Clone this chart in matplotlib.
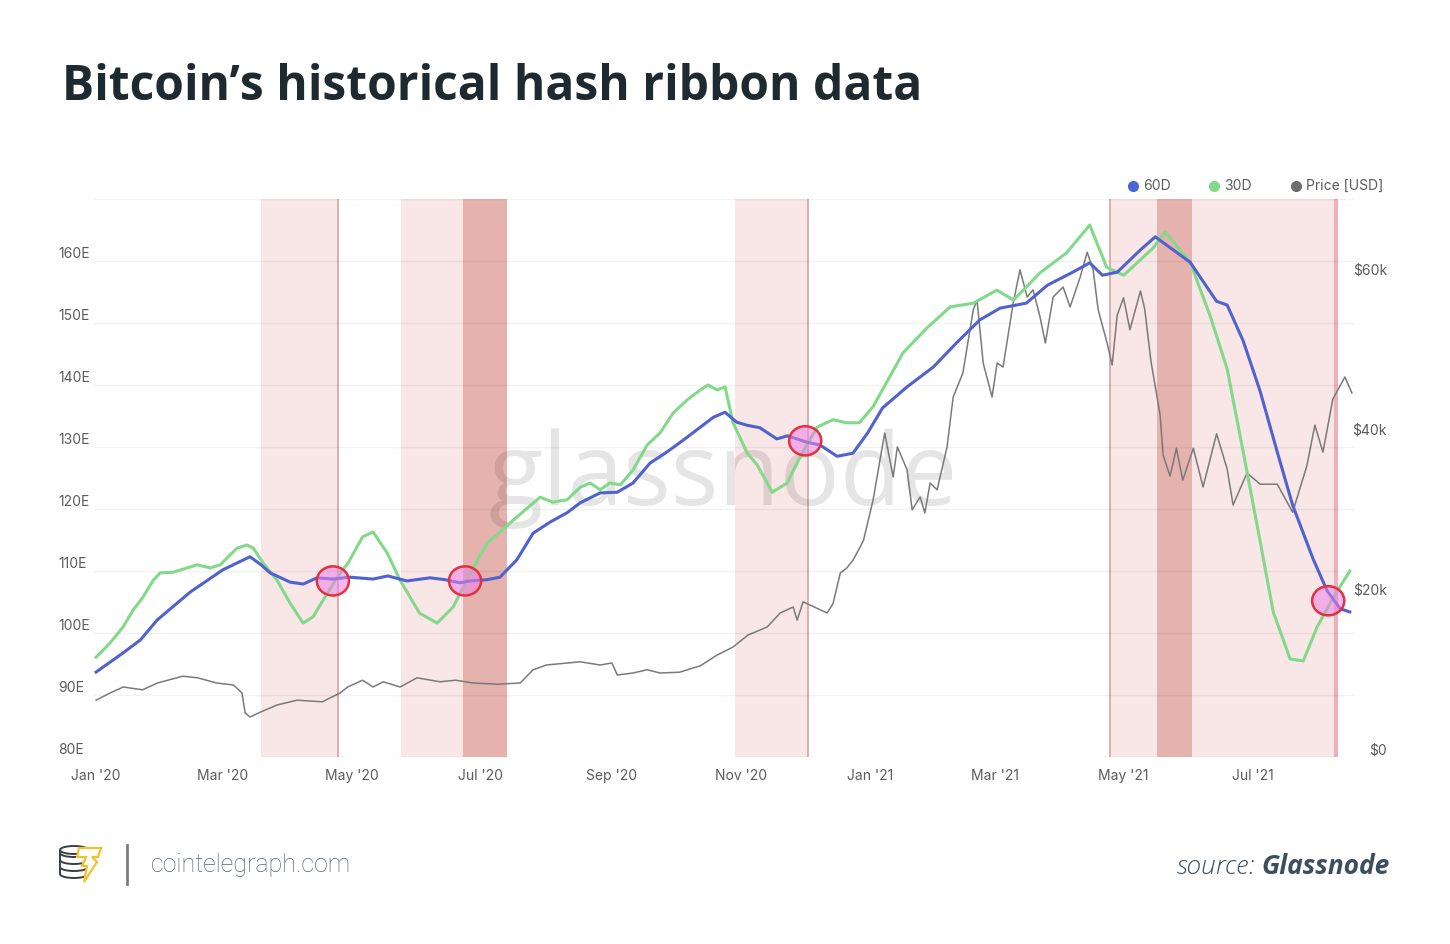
import numpy as np
import pandas as pd
import matplotlib
matplotlib.use("Agg")
import matplotlib.pyplot as plt
import matplotlib.dates as mdates
from matplotlib.patches import Ellipse, Polygon, Arc
from matplotlib.lines import Line2D
from matplotlib.transforms import blended_transform_factory, ScaledTranslation

START = pd.Timestamp("2020-01-01")

# ---------------- data (day offset from 2020-01-01, value) ----------------
ma60_days = [0, 12.8, 21, 28.9, 44.5, 60, 72.8, 78, 82.3, 91.8, 98, 104.5, 112, 120, 131, 138, 147, 158,
             165, 172, 177, 185, 191, 199, 206.7, 214.8, 222.8, 229, 238.4, 246.5, 254, 262, 270, 277.7,
             285.8, 292, 297.5, 303, 308, 314, 322, 327, 336, 342.5, 350.5, 358, 365, 372, 383.6, 396, 407,
             418, 427.6, 440, 450, 462, 470, 476, 483, 494, 501, 503, 517.5, 530, 535, 542.6, 550.6, 558.7,
             566, 575.7, 582.3, 588.5, 593]
ma60_vals = [93.7, 96.8, 98.9, 102.1, 106.6, 110.2, 112.3, 111.0, 109.7, 108.2, 107.9, 108.9, 108.7, 109.0,
             108.7, 109.2, 108.4, 108.9, 108.6, 108.1, 108.4, 108.6, 109.0, 111.8, 116.1, 117.9, 119.4, 121.0,
             122.6, 122.7, 124.2, 127.4, 129.2, 131.1, 133.2, 134.8, 135.6, 134.0, 133.5, 133.1, 131.3, 131.8,
             130.8, 130.3, 128.5, 129.0, 132.3, 136.3, 139.7, 142.9, 146.8, 150.5, 152.4, 153.2, 156.1, 158.2,
             159.7, 157.7, 158.2, 161.8, 163.9, 163.4, 159.8, 153.5, 152.9, 147.1, 139.0, 129.2, 120.6, 111.9,
             106.8, 103.9, 103.4]

ma30_days = [0, 6.6, 12.8, 17.5, 22.2, 27, 30.3, 36.4, 41.2, 47.8, 54, 58.7, 63.4, 66.7, 71.4, 74.3, 79,
             85.6, 91.8, 97.9, 102.6, 107.4, 114, 119.2, 126, 131, 137.7, 143.8, 153, 161.3, 168.9, 177, 185,
             191, 199, 210, 216, 222.8, 229, 233.7, 238.4, 243, 248, 254, 260.6, 266.8, 273, 279.6, 285.8,
             289.5, 293.8, 297.5, 301.3, 308, 312.7, 319.8, 326.9, 333, 341, 348.6, 355, 361, 367.5, 381.7,
             393, 404, 415, 426, 434, 446.5, 459, 470, 478, 486, 494, 500, 505.7, 517.5, 527, 535, 542.6,
             550.6, 556.8, 564.8, 571, 577.6, 585, 593]
ma30_vals = [96.1, 98.4, 101.0, 103.7, 105.8, 108.5, 109.7, 109.8, 110.3, 111.0, 110.5, 111.0, 112.6, 113.7,
             114.2, 113.7, 111.3, 108.5, 104.8, 101.6, 102.6, 105.3, 109.0, 111.3, 115.5, 116.3, 112.9, 108.5,
             103.2, 101.6, 104.2, 109.7, 114.5, 116.3, 118.7, 121.9, 121.1, 121.5, 123.5, 124.2, 123.1, 124.2,
             123.9, 126.3, 130.3, 132.3, 135.5, 137.6, 139.2, 140.0, 139.2, 139.7, 133.9, 129.0, 127.1, 122.7,
             124.2, 128.4, 133.2, 134.4, 133.9, 133.9, 136.5, 145.2, 149.2, 152.6, 153.2, 155.3, 153.7, 158.1,
             161.3, 165.8, 159.0, 157.7, 160.2, 162.1, 164.7, 159.8, 151.1, 142.6, 129.2, 114.8, 103.4, 95.8,
             95.5, 101.0, 105.6, 110.0]

price_days = [0, 6.6, 12.8, 22, 29, 41, 48, 57, 65, 69, 70.5, 72.8, 77.6, 85.6, 95, 107, 115.4, 119, 126,
              131, 135.8, 143.8, 151.8, 162.7, 170, 178.3, 190, 200.6, 206.7, 213, 223, 229, 238.4, 244,
              246.5, 254, 260.6, 266.8, 276, 285.8, 293.8, 301.3, 308.4, 317.4, 323.6, 329.7, 331.6, 334.4,
              342.5, 345.8, 348.6, 352, 355, 358, 361.4, 363, 367.5, 373, 377, 379, 383.6, 386, 389.8, 392,
              394.5, 397.8, 402.5, 405.4, 410, 414.9, 416.7, 419.6, 423.8, 426.2, 429, 433.8, 437, 440.4,
              443.2, 446.5, 449, 452.7, 457.4, 460.7, 465.5, 468.8, 471.6, 474, 478.2, 480.6, 483, 486, 489,
              494, 496, 499, 503.3, 504.7, 508, 511, 514, 519, 523.6, 530, 535, 537.8, 544.4, 550.6, 558.7,
              566, 572.7, 576.5, 580.3, 585, 590.7, 594]
price_vals = [7100, 8000, 8750, 8400, 9250, 10100, 9900, 9250, 9000, 8000, 5500, 5000, 5600, 6500, 7100, 6900,
              8000, 8750, 9600, 8750, 9400, 8750, 9900, 9400, 9600, 9250, 9100, 9250, 10900, 11500, 11750,
              11900, 11500, 11750, 10250, 10500, 10900, 10500, 10600, 11400, 12750, 13750, 15250, 16250,
              18000, 18750, 17100, 19400, 18400, 18000, 19200, 23000, 23600, 24600, 26250, 27100, 32100, 40500,
              35000, 38750, 35900, 30900, 32500, 30500, 34250, 33400, 38750, 45000, 48000, 55900, 57100, 49250,
              45000, 49250, 48750, 56750, 60900, 57500, 58400, 55000, 51750, 57500, 58750, 56250, 60000, 63100,
              60900, 55900, 51750, 49000, 55250, 57400, 53400, 58250, 56000, 49400, 42750, 37750, 35100, 38600,
              34600, 38600, 33750, 40400, 36000, 31500, 35500, 34100, 34100, 30600, 36400, 41500, 38100, 44750,
              47500, 45500]

# miner capitulation bands (start day, end day, shade)
band_start = [78, 144.3, 173.6, 302.3, 479.7, 501.9, 518.4]
band_end = [114.5, 173.6, 194.4, 336.8, 501.9, 518.4, 586.6]
band_kind = ["light", "light", "dark", "light", "light", "dark", "light"]
edge_days = [114.5, 336.8, 479.7]
last_edge_day = 586.6

# hash ribbon crossover markers
cross_days = [112, 174.5, 335.4, 582.8]
cross_vals = [108.4, 108.4, 131.0, 105.2]

left_ticks = [80, 90, 100, 110, 120, 130, 140, 150, 160]
left_labels = ["80E", "90E", "100E", "110E", "120E", "130E", "140E", "150E", "160E"]
right_ticks = [0, 20000, 40000, 60000]
right_labels = ["$0", "$20k", "$40k", "$60k"]
x_tick_dates = ["2020-01-01", "2020-03-01", "2020-05-01", "2020-07-01", "2020-09-01", "2020-11-01",
                "2021-01-01", "2021-03-01", "2021-05-01", "2021-07-01"]
x_tick_labels = ["Jan '20", "Mar '20", "May '20", "Jul '20", "Sep '20", "Nov '20",
                 "Jan '21", "Mar '21", "May '21", "Jul '21"]


def to_dates(days):
    return START + pd.to_timedelta(np.asarray(days, dtype=float), unit="D")


# ---------------- figure ----------------
W, H = 1450, 944
fig = plt.figure(figsize=(W / 100, H / 100), dpi=100)
fig.patch.set_facecolor("white")

LBL = "#5b5b5b"
TICKFONT = ["Inter", "DejaVu Sans"]

ax_l, ax_r, ax_t, ax_b = 94, 1354, 199, 757
ax = fig.add_axes([ax_l / W, 1 - ax_b / H, (ax_r - ax_l) / W, (ax_b - ax_t) / H])
ax2 = ax.twinx()
ax.set_zorder(2)
ax2.set_zorder(1)
ax.patch.set_visible(False)

xmin, xmax = START - pd.Timedelta(days=1), START + pd.Timedelta(days=595)
ax.set_xlim(xmin, xmax)
ax.set_ylim(80, 170)
ax2.set_ylim(0, (ax_b - ax_t) * 125)

for a in (ax, ax2):
    for s in a.spines.values():
        s.set_visible(False)
    a.tick_params(left=False, right=False, bottom=False, labelleft=False,
                  labelright=False, labelbottom=False)

ax.set_yticks(list(range(80, 171, 10)))
ax.grid(axis="y", color="black", alpha=0.05, lw=1)
ax.grid(axis="x", visible=False)

# bands
for s, e, k in zip(band_start, band_end, band_kind):
    col = "#e6b2ad" if k == "dark" else "#f9e6e6"
    ax2.axvspan(to_dates([s])[0], to_dates([e])[0], color=col, lw=0, zorder=0)
for d in edge_days:
    ax2.axvline(to_dates([d])[0], color="#d6a3a3", lw=1.2, zorder=0.5)
ax2.axvline(to_dates([last_edge_day])[0], color="#ebb2bb", lw=3, zorder=0.5)

# watermark
ax2.text(0.499, (ax_b - 505) / (ax_b - ax_t), "glassnode", transform=ax2.transAxes,
         ha="center", va="baseline", fontsize=72, family=["Open Sans", "DejaVu Sans"],
         color="black", alpha=0.10, zorder=1)

# price
ax2.plot(to_dates(price_days), price_vals, color="#7a7a7a", lw=1.1, zorder=2)

# ribbons
ax.plot(to_dates(ma30_days), ma30_vals, color="#82d98a", lw=2.2, zorder=3)
ax.plot(to_dates(ma60_days), ma60_vals, color="#4f62cf", lw=2.2, zorder=4)

# crossover circles
for d, v in zip(cross_days, cross_vals):
    cx = mdates.date2num(to_dates([d])[0])
    ax.add_patch(Ellipse((cx, v), width=15.2, height=4.7, facecolor="#ee80e6", alpha=0.55,
                         edgecolor="none", zorder=5))
    ax.add_patch(Ellipse((cx, v), width=15.2, height=4.7, facecolor="none",
                         edgecolor="#e0323f", lw=1.8, zorder=6))

# y labels (left, right) placed slightly above gridlines
up = ScaledTranslation(0, 7 / 100, fig.dpi_scale_trans)
tl = blended_transform_factory(fig.transFigure, ax.transData) + up
for v, lab in zip(left_ticks, left_labels):
    fig.text(58 / W, v, lab, transform=tl, ha="left", va="center", fontsize=10,
             color=LBL, family=TICKFONT)
tr = blended_transform_factory(fig.transFigure, ax2.transData) + up
for v, lab in zip(right_ticks, right_labels):
    fig.text(1387 / W, v, lab, transform=tr, ha="right", va="center", fontsize=10,
             color=LBL, family=TICKFONT)

# x labels
tx = blended_transform_factory(ax.transData, fig.transFigure)
for d, lab in zip(x_tick_dates, x_tick_labels):
    fig.text(mdates.date2num(pd.Timestamp(d)), 1 - 776 / H, lab, transform=tx, ha="center",
             va="center", fontsize=10, color=LBL, family=TICKFONT)

# legend
leg_items = [("60D", "#4a66d6", 1133), ("30D", "#86d98c", 1214), ("Price [USD]", "#6e6e6e", 1296)]
for lab, col, xp in leg_items:
    fig.add_artist(Line2D([xp / W], [1 - 186 / H], marker="o", markersize=7, color=col,
                          lw=0, transform=fig.transFigure))
    fig.text((xp + 10) / W, 1 - 186 / H, lab, ha="left", va="center", fontsize=10,
             color=LBL, family=TICKFONT)

# title
fig.text(62 / W, 1 - 100 / H, "Bitcoin’s historical hash ribbon data", ha="left", va="baseline",
         fontsize=34.6, fontweight="bold", color="#1f2a30", family=["Open Sans", "DejaVu Sans"])

# footer decorations
deco = fig.add_axes([0, 0, 1, 1])
deco.set_xlim(0, W)
deco.set_ylim(H, 0)
deco.axis("off")
coin = "#3a3f44"
deco.add_patch(Ellipse((74, 850), 28, 8, fill=False, edgecolor=coin, lw=1.4))
for yy in (857, 864, 871, 878):
    deco.add_patch(Arc((74, yy - 4), 28, 8, theta1=0, theta2=180, edgecolor=coin, lw=1.4))
deco.plot([60, 60], [850, 874], color=coin, lw=1.4)
bolt = [(79, 848), (101, 848), (98, 857), (92, 857), (97, 862), (84, 882), (87, 866), (82, 866),
        (86, 857), (77, 857)]
deco.add_patch(Polygon(bolt, closed=True, facecolor="white", edgecolor="#f2c12e", lw=1.6, zorder=3))
deco.plot([127, 127], [845, 884], color="#7d7d7d", lw=2)

fig.text(151 / W, 1 - 872 / H, "cointelegraph.com", ha="left", va="baseline", fontsize=18,
         color="#56636d", family=["Roboto", "DejaVu Sans"], fontweight="light")

g = fig.text(1390 / W, 1 - 874 / H, "Glassnode", ha="right", va="baseline", fontsize=19,
             color="#3d4f5c", family=["Open Sans", "DejaVu Sans"], fontweight="bold", style="italic")
fig.canvas.draw()
bb = g.get_window_extent()
fig.text((bb.x0 - 6) / W, 1 - 874 / H, "source:", ha="right", va="baseline", fontsize=19,
         color="#3d4f5c", family=["Open Sans", "DejaVu Sans"], fontweight="light", style="italic")

fig.savefig("out.png", dpi=100, facecolor="white")
